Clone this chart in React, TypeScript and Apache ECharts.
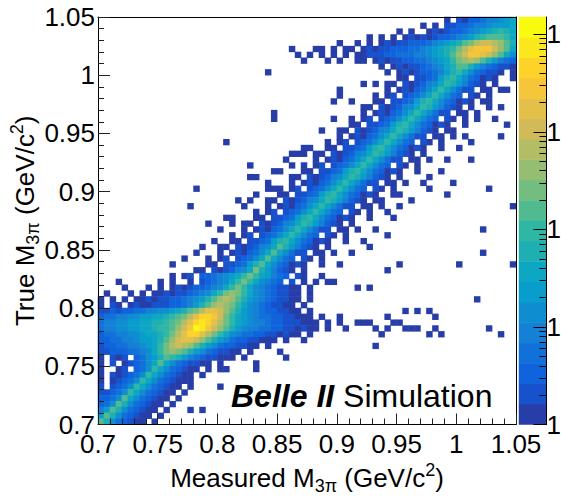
import { useEffect, useRef } from 'react'
import * as echarts from 'echarts'

const FONT = "'Liberation Sans', Arial, Helvetica, sans-serif"

// Measured vs true M(3pi): 70 x 70 bins of 5 MeV/c^2 between 0.70 and 1.05.
// One string per true-mass bin, top row (1.045-1.050) first, bottom row (0.700-0.705) last.
// Segments "firstBin:levels"; level 1-9, a-k = colour band 1..20 of the z scale, '.' = empty bin
const HIST_ROWS = [
  '58:1.2133455678',
  '54:1.1.223345567778',
  '50:1.1..121233456789a98',
  '45:1.1.1.1212123345679abbba8',
  '40:1..1.1.12122333456789bceffedb9',
  '32:1...11.1.11.121223334456789aceghhhfdb8',
  '33:1.1.1.1.1.1122233444556789bdfhhgfdb86',
  '34:1...1.1..11.1212233445678acdedb97543',
  '47:1.12122345689bb97543221',
  '28:1 48:1.1212334579a8643221.1',
  '49:.11.223479a8643121..1',
  '44:1 46:1 48:11.2123568a975321.1..',
  '40:1 47:.1.1213468a86422.11.1 68:1',
  '40:1 46:1.12.23468a8643.21.1.',
  '39:1 42:1 45:.11.223479a8643121..1 64:1',
  '44:11.2123568a975321.1.. 65:1 67:1',
  '29:1 43:.1.1213468a86422.11.1',
  '29:1 39:1 42:1.12.23468a8643.21.1. 63:1 66:1',
  '41:.11.223479a8643121..1 68:1',
  '37:1 40:11.2123568a975321.1.. 59:1',
  '39:.1.1213468a86422.11.1 61:1 67:1',
  '21:1 38:1.12.23468a8643.21.1. 62:1',
  '34:1 35:1 37:.11.223479a8643121..1 60:1',
  '32:111 36:11.2123568a975321.1..',
  '31:1 35:.1.1213468a86422.11.1 58:1 62:1',
  '25:1 32:1 34:1.12.23468a8643.21.1.',
  '29:1 30:1 33:.11.223479a8643121..1 57:1',
  '25:11 32:11.2123568a975321.1.. 55:1',
  '28:1 31:.1.1213468a86422.11.1 54:1 59:1',
  '16:1 28:11 30:1.12.23468a8643.21.1. 55:1 65:1',
  '26:1 29:.11.223479a8643121..1 50:1 58:1',
  '23:1.1 28:11.2123568a975321.1.. 47:1 52:1',
  '15:1 24:1 27:.1.1213468a86422.11.1 50:1 69:1',
  '26:1.12.23468a8643.21.1. 48:1',
  '21:1 22:1 25:.11.223479a8643121..1 49:1',
  '18:1 22:1 24:11.2123568a975321.1..',
  '20:1 23:.1.1213468a86422.11.1 46:1 64:1',
  '22:1.12.23468a8643.21.1. 48:1',
  '19:1 21:.11.223479a8643121..1 44:1',
  '17:1 20:11.2123568b975321.1.. 45:1',
  '16:1 19:.1.1213468b86422.11.1 42:1 64:1',
  '14:1 18:1.12.23468b8643.21.1.',
  '12:1 17:.11.223479b8643121..1 40:1 50:1 60:1 69:1',
  '16:11.2123568c975321.1.. 48:1',
  '12:1.12.3345678aca87543.21..1',
  '3:1 10:1.1..1.234568aca86543.2.1.1.11',
  '4:1...1.1.1212334568aca865432211.1 43:1 45:1',
  '1:1...1.1.11212234568acdca865432211.1',
  '0:1.1.1.1121223345679bdedb9765432211.1 63:1',
  '0:1.21.1211222334579bdedca865432211.1',
  '0:223233445566789bceggfdb97654332211.1 51:1.1.1',
  '0:344556677889abcegiihfca8765443322111.1..1 48:1 56:1',
  '0:45566778899abcegijigeca87655433222111.1.1 43:111 49:11',
  '0:4556677889aabdfhkjhfdb976554433221211.1 41:1 46:1.1 51:111 56:1 65:1',
  '0:34455667889acegiigeca8654433221211.1 47:1 55:1.1 67:1',
  '0:33445567789bdfggfdb97643322111.1..1',
  '0:2334455678acefedb9764332211.1 46:1',
  '0:2233344568acdcb976432211.1 30:1',
  '0:1.212.34679ba9754322111.1 31:1',
  '0:1.2.123468b86432211.1 26:1',
  '0:1..12.346a8643211.1.11 26:1',
  '0:1.212346a8643211.1',
  '0:1.12346a86432111',
  '0:2.2346a8643211.1 20:1',
  '0:22346a8643211.1',
  '0:3346b8643211.1',
  '0:346b9643211.1',
  '0:57b9643211.1 15:1.1',
  '0:7b9643211.1',
  '0:b9643211.1',
]

const N_BINS = 70
const AXIS_MIN = 0.7
const AXIS_MAX = 1.05
const AXIS_STEP = 0.05

// z scale: 20 colour bands (kBird palette), log10(entries) from 0 up to Z_LOG_MAX
const LEVEL_COLORS = [
  '#273da8', '#1751cb', '#1063dc', '#1271d9', '#1480d6',
  '#0e8ed1', '#099dcc', '#0da7c3', '#1eafb3', '#2eb7a4',
  '#52ba91', '#74bd80', '#96be71', '#b4bd65', '#d1bb59',
  '#e3c04a', '#f5c63a', '#fdd32a', '#fbe81c', '#f9fb0e',
]
const Z_LOG_MAX = 4.177
const Z_DECADES = [0, 1, 2, 3, 4]
// the picture's right edge crops every decade label to its first digit
const Z_TICK_LABELS = ['1', '1', '1', '1', '1']
const Z_MINOR_FACTORS = [2, 3, 4, 5, 6, 7, 8, 9]

const binNames = Array.from({ length: N_BINS }, (_, i) => String(i))

const histCells: number[][] = []
HIST_ROWS.forEach((row, k) => {
  const yBin = N_BINS - 1 - k
  row.split(' ').forEach((segment) => {
    const [first, levels] = segment.split(':')
    Array.from(levels).forEach((ch, i) => {
      if (ch !== '.') histCells.push([Number(first) + i, yBin, parseInt(ch, 36)])
    })
  })
})

const legendCells = LEVEL_COLORS.map((_, i) => [0, i, i + 1])
const zMinorTicks = Z_DECADES.flatMap((d) => Z_MINOR_FACTORS.map((f) => d + Math.log10(f))).filter(
  (v) => v < Z_LOG_MAX,
)

const titleStyle = {
  fontSize: 26,
  lineHeight: 34,
  color: '#000',
  fontFamily: FONT,
  rich: {
    sub: { fontSize: 18, lineHeight: 18, verticalAlign: 'bottom', fontFamily: FONT, color: '#000' },
    sup: { fontSize: 18, lineHeight: 18, verticalAlign: 'top', fontFamily: FONT, color: '#000' },
  },
}

const frameLine = { show: true, onZero: false, lineStyle: { color: '#000', width: 1 } }
const tickStyle = { color: '#222', width: 1 }

export default function App() {
  const chartRef = useRef<HTMLDivElement>(null)

  useEffect(() => {
    if (!chartRef.current) return
    const chart = echarts.init(chartRef.current, null, { renderer: 'svg' })

    const option = {
      animation: false,
      textStyle: { fontFamily: FONT },
      grid: [
        { left: 98, top: 17, width: 418, height: 407.5, outerBoundsMode: 'none' },
        { left: 519, top: 17, width: 27.5, height: 407.5, outerBoundsMode: 'none' },
      ],
      visualMap: {
        type: 'piecewise',
        show: false,
        dimension: 2,
        seriesIndex: [0, 1],
        pieces: LEVEL_COLORS.map((color, i) => ({ value: i + 1, color })),
      },
      xAxis: [
        { type: 'category', gridIndex: 0, data: binNames, show: false },
        {
          type: 'value',
          gridIndex: 0,
          position: 'bottom',
          min: AXIS_MIN,
          max: AXIS_MAX,
          interval: AXIS_STEP,
          z: 10,
          axisLine: frameLine,
          axisTick: { show: true, inside: true, length: 11, lineStyle: tickStyle },
          minorTick: { show: true, splitNumber: 5, length: 6, lineStyle: tickStyle },
          splitLine: { show: false },
          axisLabel: { fontSize: 26, color: '#000', margin: 6, fontFamily: FONT },
          name: 'Measured M{sub|3π} (GeV/c{sup|2})',
          nameLocation: 'middle',
          nameGap: 30,
          nameTextStyle: titleStyle,
        },
        {
          type: 'value',
          gridIndex: 0,
          position: 'top',
          min: AXIS_MIN,
          max: AXIS_MAX,
          z: 10,
          axisLine: frameLine,
          axisTick: { show: false },
          axisLabel: { show: false },
          splitLine: { show: false },
        },
        { type: 'category', gridIndex: 1, data: ['z'], show: false },
      ],
      yAxis: [
        { type: 'category', gridIndex: 0, data: binNames, show: false },
        {
          type: 'value',
          gridIndex: 0,
          position: 'left',
          min: AXIS_MIN,
          max: AXIS_MAX,
          interval: AXIS_STEP,
          z: 10,
          axisLine: frameLine,
          axisTick: { show: true, inside: true, length: 12, lineStyle: tickStyle },
          minorTick: { show: true, splitNumber: 5, length: 6, lineStyle: tickStyle },
          splitLine: { show: false },
          axisLabel: { fontSize: 26, color: '#000', margin: 3, fontFamily: FONT },
          name: 'True M{sub|3π} (GeV/c{sup|2})',
          nameLocation: 'middle',
          nameGap: 56,
          nameMoveOverlap: false,
          nameTextStyle: titleStyle,
        },
        {
          type: 'value',
          gridIndex: 0,
          position: 'right',
          min: AXIS_MIN,
          max: AXIS_MAX,
          z: 10,
          axisLine: frameLine,
          axisTick: { show: false },
          axisLabel: { show: false },
          splitLine: { show: false },
        },
        {
          type: 'category',
          gridIndex: 1,
          data: LEVEL_COLORS.map((_, i) => String(i)),
          show: false,
        },
        {
          type: 'value',
          gridIndex: 1,
          position: 'right',
          min: 0,
          max: Z_LOG_MAX,
          z: 10,
          axisLine: frameLine,
          axisTick: {
            show: true,
            inside: true,
            length: 13,
            customValues: Z_DECADES,
            lineStyle: { color: '#000', width: 1 },
          },
          axisLabel: {
            customValues: Z_DECADES,
            fontSize: 26,
            color: '#000',
            margin: 0,
            fontFamily: FONT,
            formatter: (v: number) => Z_TICK_LABELS[Z_DECADES.indexOf(Math.round(v))] ?? '',
          },
          splitLine: { show: false },
        },
        {
          type: 'value',
          gridIndex: 1,
          position: 'right',
          min: 0,
          max: Z_LOG_MAX,
          z: 10,
          axisLine: { show: false },
          axisTick: {
            show: true,
            inside: true,
            length: 7,
            customValues: zMinorTicks,
            lineStyle: { color: '#000', width: 1 },
          },
          axisLabel: { show: false },
          splitLine: { show: false },
        },
      ],
      series: [
        {
          type: 'heatmap',
          xAxisIndex: 0,
          yAxisIndex: 0,
          data: histCells,
          progressive: 0,
          silent: true,
          emphasis: { disabled: true },
        },
        {
          type: 'heatmap',
          xAxisIndex: 3,
          yAxisIndex: 3,
          data: legendCells,
          progressive: 0,
          silent: true,
          emphasis: { disabled: true },
        },
      ],
      graphic: [
        {
          type: 'text',
          x: 231,
          y: 396,
          z: 100,
          style: {
            text: '{b|Belle II} Simulation',
            fontSize: 32,
            fontFamily: FONT,
            fill: '#000',
            verticalAlign: 'middle',
            rich: {
              b: { fontSize: 32, fontFamily: FONT, fontWeight: 'bold', fontStyle: 'italic', fill: '#000' },
            },
          },
        },
      ],
    }

    chart.setOption(option as any)

    return () => {
      chart.dispose()
    }
  }, [])

  return (
    <div
      ref={chartRef}
      style={{ position: 'fixed', left: 0, top: 0, width: 561, height: 497, background: '#fff' }}
    />
  )
}
